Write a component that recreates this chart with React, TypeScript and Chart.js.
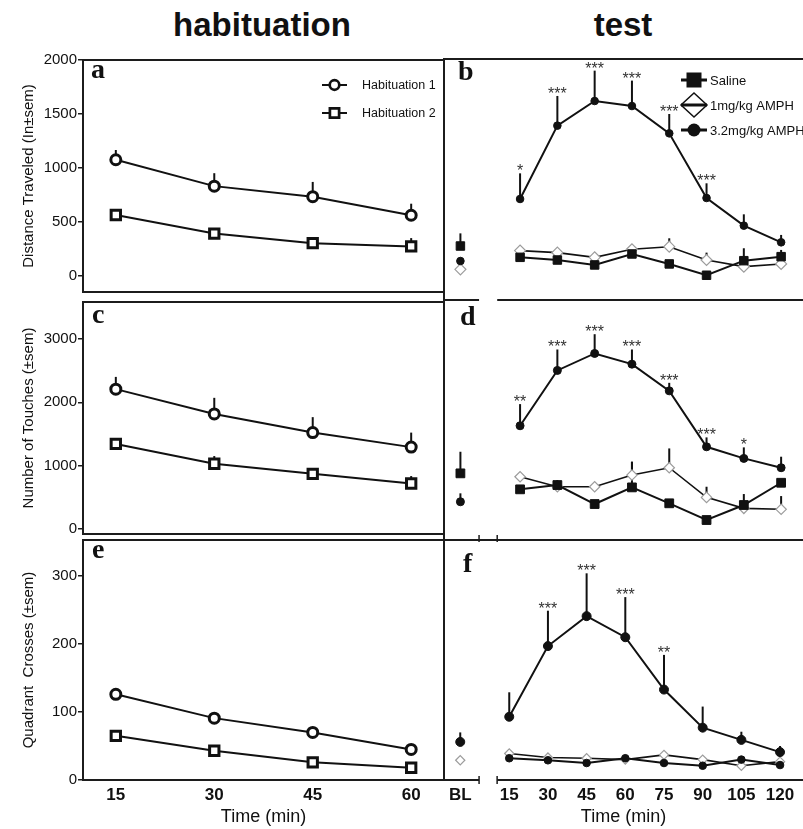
import React, { useEffect, useRef } from 'react';
import { Chart, registerables } from 'chart.js';

Chart.register(...registerables);

const SANS = "'Liberation Sans', Arial, Helvetica, sans-serif";
const SERIF = "'Liberation Serif', 'Times New Roman', serif";
const INK = '#111111';
const FRAME = '#1c1c1c';
const DIAMOND_GRAY = '#9c9c9c';

// ---------------- categories / ticks ----------------
const habTimes = [15, 30, 45, 60];
const habTickLabels = ['15', '30', '45', '60'];
const testTimes = [15, 30, 45, 60, 75, 90, 105, 120];
const testTickLabels = ['BL', '15', '30', '45', '60', '75', '90', '105', '120'];
const distTicks = [0, 500, 1000, 1500, 2000];
const touchTicks = [0, 1000, 2000, 3000];
const crossTicks = [0, 100, 200, 300];

// ---------------- Distance traveled ----------------
const distHab1 = [1075, 830, 732, 560];
const distHab1Sem = [90, 120, 137, 107];
const distHab2 = [562, 390, 301, 271];
const distHab2Sem = [30, 30, 20, 77];
// test series: first value = BL
const distSaline = [330, 229, 205, 161, 259, 170, 69, 199, 235];
const distSalineSem = [113, 0, 0, 0, 80, 0, 0, 111, 60];
const distLow = [122, 289, 271, 229, 301, 324, 205, 146, 170];
const distLowSem = [0, 0, 0, 0, 0, 75, 66, 0, 0];
const distHigh = [196, 750, 1405, 1625, 1580, 1336, 759, 512, 363];
const distHighSem = [30, 229, 265, 271, 227, 173, 131, 101, 66];
const distStars = ['', '*', '***', '***', '***', '***', '***', '', ''];

// ---------------- Number of touches ----------------
const touchHab1 = [2209, 1816, 1520, 1290];
const touchHab1Sem = [194, 255, 245, 230];
const touchHab2 = [1341, 1026, 867, 714];
const touchHab2Sem = [77, 122, 40, 117];
const touchSaline = [934, 689, 755, 464, 719, 475, 219, 449, 790];
const touchSalineSem = [331, 0, 76, 0, 393, 0, 0, 168, 0];
const touchLow = [null, 882, 729, 729, 908, 1020, 566, 398, 383];
const touchLowSem = [0, 0, 0, 0, 204, 296, 163, 0, 203];
const touchHigh = [499, 1663, 2511, 2771, 2607, 2198, 1341, 1163, 1020];
const touchHighSem = [129, 332, 321, 295, 225, 123, 144, 169, 169];
const touchStars = ['', '**', '***', '***', '***', '***', '***', '*', ''];

// ---------------- Quadrant crosses ----------------
const crossHab1 = [126, 91, 70, 45];
const crossHab1Sem = [8, 4, 4, 3];
const crossHab2 = [65, 43, 26, 18];
const crossHab2Sem = [4, 3, 3, 2];
const crossSaline = [null, 32, 29, 25, 32, 25, 21, 30, 22];
const crossSalineSem = [0, 0, 0, 0, 0, 0, 0, 0, 0];
const crossLow = [29, 39, 33, 32, 30, 37, 30, 21, 27];
const crossLowSem = [0, 0, 0, 0, 0, 0, 0, 0, 0];
const crossHigh = [56, 93, 197, 241, 210, 133, 77, 59, 41];
const crossHighSem = [14, 36, 52, 63, 59, 51, 31, 12, 9];
const crossStars = ['', '', '***', '***', '***', '**', '', '', ''];

// axis ranges
const distRange = { min: -152, max: 2000 };
const touchRange = { min: -87, max: 3590 };
const crossRange = { min: 0, max: 353 };
const habXRange = { min: 10, max: 65 };
const testXRangeBD = { min: -15.6, max: 128.8 };
const testXRangeF = { min: -10.3, max: 128.9 };
const BL_X_BD = -9;
const BL_X_F = -4;
const BREAK_BD = [-1.5, 5.8];
const BREAK_F = [3.3, 10.3];

// ---------------- plugins ----------------
const errorBarPlugin = {
  id: 'errorBars',
  beforeDatasetsDraw(chart: any) {
    const { ctx, scales } = chart;
    const x = scales.x, y = scales.y;
    ctx.save();
    ctx.strokeStyle = INK;
    ctx.lineWidth = 2;
    chart.data.datasets.forEach((d: any) => {
      if (!d.errs) return;
      d.data.forEach((p: any, i: number) => {
        const e = d.errs[i];
        if (p.y == null || !e) return;
        const px = x.getPixelForValue(p.x);
        ctx.beginPath();
        ctx.moveTo(px, y.getPixelForValue(p.y));
        ctx.lineTo(px, y.getPixelForValue(p.y + e));
        ctx.stroke();
      });
    });
    ctx.restore();
  },
  afterDatasetsDraw(chart: any) {
    const { ctx, scales } = chart;
    const x = scales.x, y = scales.y;
    ctx.save();
    ctx.font = `16px ${SANS}`;
    ctx.textAlign = 'center';
    ctx.textBaseline = 'alphabetic';
    ctx.fillStyle = '#333';
    chart.data.datasets.forEach((d: any) => {
      if (!d.stars) return;
      d.data.forEach((p: any, i: number) => {
        const s = d.stars[i];
        if (!s || p.y == null) return;
        const top = y.getPixelForValue(p.y + ((d.errs && d.errs[i]) || 0));
        ctx.fillText(s, x.getPixelForValue(p.x), top + 3);
      });
    });
    ctx.restore();
  },
};

function drawSymbol(ctx: CanvasRenderingContext2D, kind: string, cx: number, cy: number) {
  ctx.save();
  ctx.strokeStyle = INK;
  ctx.fillStyle = INK;
  if (kind === 'openCircle') {
    ctx.lineWidth = 2.7;
    ctx.fillStyle = '#fff';
    ctx.beginPath();
    ctx.arc(cx, cy, 4.8, 0, Math.PI * 2);
    ctx.fill();
    ctx.stroke();
  } else if (kind === 'openSquare') {
    ctx.lineWidth = 2.7;
    ctx.fillStyle = '#fff';
    ctx.beginPath();
    ctx.rect(cx - 4.6, cy - 4.6, 9.2, 9.2);
    ctx.fill();
    ctx.stroke();
  } else if (kind === 'filledSquare') {
    ctx.fillRect(cx - 7.5, cy - 7.5, 15, 15);
  } else if (kind === 'filledCircle') {
    ctx.beginPath();
    ctx.arc(cx, cy, 6.5, 0, Math.PI * 2);
    ctx.fill();
  } else if (kind === 'diamond') {
    ctx.lineWidth = 1.5;
    ctx.fillStyle = '#fff';
    ctx.beginPath();
    ctx.moveTo(cx, cy - 12);
    ctx.lineTo(cx + 13, cy);
    ctx.lineTo(cx, cy + 12);
    ctx.lineTo(cx - 13, cy);
    ctx.closePath();
    ctx.fill();
    ctx.stroke();
  }
  ctx.restore();
}

const decorPlugin = {
  id: 'decor',
  afterDraw(chart: any, _args: any, opts: any) {
    const { ctx, chartArea: ca, scales } = chart;
    const xs = scales.x;
    ctx.save();
    ctx.strokeStyle = FRAME;
    ctx.lineWidth = 2;
    const line = (x1: number, y1: number, x2: number, y2: number) => {
      ctx.beginPath();
      ctx.moveTo(x1, y1);
      ctx.lineTo(x2, y2);
      ctx.stroke();
    };
    const f = opts.frame || {};
    if (f.left) line(ca.left, ca.top - 1, ca.left, ca.bottom + 1);
    if (f.right) line(ca.right, ca.top - 1, ca.right, ca.bottom + 1);
    if (f.top) line(ca.left - 1, ca.top, ca.right, ca.top);
    if (f.bottom) {
      if (opts.bottomGap) {
        const g1 = xs.getPixelForValue(opts.bottomGap[0]);
        const g2 = xs.getPixelForValue(opts.bottomGap[1]);
        line(ca.left - 1, ca.bottom, g1, ca.bottom);
        line(g2, ca.bottom, ca.right, ca.bottom);
        if (opts.gapCaps) {
          ctx.lineWidth = 1.5;
          line(g1, ca.bottom - 4, g1, ca.bottom + 4);
          line(g2, ca.bottom - 4, g2, ca.bottom + 4);
        }
      } else {
        line(ca.left - 1, ca.bottom, ca.right, ca.bottom);
      }
    }
    if (opts.bottomCaps) {
      ctx.lineWidth = 1.5;
      opts.bottomCaps.forEach((v: number) => {
        const px = xs.getPixelForValue(v);
        line(px, ca.bottom - 5, px, ca.bottom + 2);
      });
    }
    // panel letter
    if (opts.letter) {
      ctx.fillStyle = INK;
      ctx.font = `bold 28px ${SERIF}`;
      ctx.textAlign = 'left';
      ctx.textBaseline = 'alphabetic';
      ctx.fillText(opts.letter, ca.left + opts.letterAt[0], ca.top + opts.letterAt[1]);
    }
    // legend
    const lg = opts.legend;
    if (lg) {
      lg.items.forEach((it: any, i: number) => {
        const cy = ca.top + lg.rows[i];
        const x1 = ca.left + lg.x1, x2 = ca.left + lg.x2;
        const cx = (x1 + x2) / 2;
        ctx.strokeStyle = INK;
        ctx.lineWidth = lg.lineWidth;
        if (it.kind === 'diamond') {
          drawSymbol(ctx, it.kind, cx, cy);
          ctx.strokeStyle = INK;
          ctx.lineWidth = lg.lineWidth;
          line(x1, cy, x2, cy);
        } else {
          line(x1, cy, x2, cy);
          drawSymbol(ctx, it.kind, cx, cy);
        }
        ctx.fillStyle = INK;
        ctx.font = `${lg.fontSize}px ${SANS}`;
        ctx.textAlign = 'left';
        ctx.textBaseline = 'middle';
        ctx.fillText(it.label, ca.left + lg.textX, cy + 1);
      });
    }
    ctx.restore();
  },
};

// ---------------- dataset helpers ----------------
const skipFirst = {
  borderColor: (c: any) => (c.p0DataIndex === 0 ? 'rgba(0,0,0,0)' : undefined),
};

function series(xs: number[], ys: (number | null)[], sem: number[], style: any, extra: any = {}) {
  return {
    data: xs.map((x, i) => ({ x, y: ys[i] })),
    errs: sem,
    tension: 0,
    fill: false,
    clip: false,
    ...style,
    ...extra,
  };
}

const hab1Style = {
  borderColor: INK, borderWidth: 2, pointStyle: 'circle', pointRadius: 5,
  pointBorderWidth: 3, pointBackgroundColor: '#fff', pointBorderColor: INK,
};
const hab2Style = {
  borderColor: INK, borderWidth: 2, pointStyle: 'rect', pointRadius: 6.6,
  pointBorderWidth: 3, pointBackgroundColor: '#fff', pointBorderColor: INK,
};
const highStyle = (r: number) => ({
  borderColor: INK, borderWidth: 2, pointStyle: 'circle', pointRadius: r,
  pointBorderWidth: 1, pointBackgroundColor: INK, pointBorderColor: INK, segment: skipFirst,
});
const salineStyle = (shape: string, r: number) => ({
  borderColor: INK, borderWidth: 2, pointStyle: shape, pointRadius: r,
  pointBorderWidth: 1, pointBackgroundColor: INK, pointBorderColor: INK, segment: skipFirst,
});
const lowStyle = (r: number) => ({
  borderColor: INK, borderWidth: 1.6, pointStyle: 'rectRot', pointRadius: r,
  pointBorderWidth: 1.2, pointBackgroundColor: '#fff', pointBorderColor: DIAMOND_GRAY, segment: skipFirst,
});

function habSets(h1: number[], h1s: number[], h2: number[], h2s: number[]) {
  return [series(habTimes, h1, h1s, hab1Style), series(habTimes, h2, h2s, hab2Style)];
}

function testSets(
  blX: number, sal: any[], salS: number[], low: any[], lowS: number[], high: any[], highS: number[],
  stars: string[], sal2: { shape: string; r: number }, highR: number, lowR: number
) {
  const xs = [blX, ...testTimes];
  return [
    series(xs, high, highS, highStyle(highR), { stars }),
    series(xs, sal, salS, salineStyle(sal2.shape, sal2.r)),
    series(xs, low, lowS, lowStyle(lowR)),
  ];
}

// ---------------- panel specs ----------------
type PanelSpec = {
  box: { x: number; y: number; w: number; h: number };
  padding: { left: number; right: number; top: number; bottom: number };
  datasets: any[];
  xRange: { min: number; max: number };
  yRange: { min: number; max: number };
  yTicks?: number[];
  yTitle?: string;
  xTicks?: number[];
  xTickLabels?: string[];
  decor: any;
};

const legendHab = {
  x1: 239, x2: 264, textX: 279, rows: [25, 53], fontSize: 12.5, lineWidth: 2,
  items: [
    { kind: 'openCircle', label: 'Habituation 1' },
    { kind: 'openSquare', label: 'Habituation 2' },
  ],
};
const legendTest = {
  x1: 237, x2: 263, textX: 266, rows: [21, 46, 71], fontSize: 13, lineWidth: 3,
  items: [
    { kind: 'filledSquare', label: 'Saline' },
    { kind: 'diamond', label: '1mg/kg AMPH' },
    { kind: 'filledCircle', label: '3.2mg/kg AMPH' },
  ],
};

const panels: PanelSpec[] = [
  {
    box: { x: 0, y: 50, w: 446, h: 252 },
    padding: { left: 0, right: 2, top: 9, bottom: 2 },
    datasets: habSets(distHab1, distHab1Sem, distHab2, distHab2Sem),
    xRange: habXRange, yRange: distRange, yTicks: distTicks,
    yTitle: 'Distance Traveled (In\u00B1sem)',
    decor: { frame: { top: true, right: true, bottom: true, left: true }, letter: 'a', letterAt: [8, 18], legend: legendHab },
  },
  {
    box: { x: 440, y: 50, w: 363, h: 252 },
    padding: { left: 4, right: 0, top: 9, bottom: 2 },
    datasets: testSets(BL_X_BD, distSaline, distSalineSem, distLow, distLowSem, distHigh, distHighSem, distStars,
      { shape: 'rect', r: 6 }, 3.8, 5.5),
    xRange: testXRangeBD, yRange: distRange,
    decor: { frame: { top: true, bottom: true, left: true }, bottomGap: BREAK_BD, letter: 'b', letterAt: [14, 21], legend: legendTest },
  },
  {
    box: { x: 0, y: 292, w: 446, h: 252 },
    padding: { left: 0, right: 2, top: 8, bottom: 4 },
    datasets: habSets(touchHab1, touchHab1Sem, touchHab2, touchHab2Sem),
    xRange: habXRange, yRange: touchRange, yTicks: touchTicks,
    yTitle: 'Number of Touches (\u00B1sem)',
    decor: { frame: { top: true, right: true, bottom: true, left: true }, letter: 'c', letterAt: [9, 21] },
  },
  {
    box: { x: 440, y: 292, w: 363, h: 252 },
    padding: { left: 4, right: 0, top: 8, bottom: 4 },
    datasets: testSets(BL_X_BD, touchSaline, touchSalineSem, touchLow, touchLowSem, touchHigh, touchHighSem, touchStars,
      { shape: 'rect', r: 6.2 }, 4, 5.2),
    xRange: testXRangeBD, yRange: touchRange,
    decor: { frame: { bottom: true, left: true }, bottomCaps: BREAK_BD, letter: 'd', letterAt: [16, 25] },
  },
  {
    box: { x: 0, y: 530, w: 446, h: 299 },
    padding: { left: 0, right: 2, top: 10, bottom: 0 },
    datasets: habSets(crossHab1, crossHab1Sem, crossHab2, crossHab2Sem),
    xRange: habXRange, yRange: crossRange, yTicks: crossTicks,
    yTitle: 'Quadrant  Crosses (\u00B1sem)',
    xTicks: habTimes, xTickLabels: habTickLabels,
    decor: { frame: { top: true, right: true, bottom: true, left: true }, letter: 'e', letterAt: [9, 18] },
  },
  {
    box: { x: 440, y: 530, w: 363, h: 299 },
    padding: { left: 4, right: 0, top: 10, bottom: 0 },
    datasets: testSets(BL_X_F, crossSaline, crossSalineSem, crossLow, crossLowSem, crossHigh, crossHighSem, crossStars,
      { shape: 'circle', r: 3.8 }, 4.5, 4.6),
    xRange: testXRangeF, yRange: crossRange,
    xTicks: [BL_X_F, ...testTimes], xTickLabels: testTickLabels,
    decor: { frame: { top: true, bottom: true, left: true }, bottomGap: BREAK_F, gapCaps: true, letter: 'f', letterAt: [19, 32] },
  },
];

function buildConfig(p: PanelSpec): any {
  const yScale: any = p.yTicks
    ? {
        type: 'linear', min: p.yRange.min, max: p.yRange.max,
        afterBuildTicks: (s: any) => { s.ticks = p.yTicks!.map((v) => ({ value: v })); },
        afterFit: (s: any) => { s.width = 83; },
        ticks: { font: { family: SANS, size: 15 }, color: INK, padding: 1, callback: (v: any) => String(v) },
        grid: { display: true, drawOnChartArea: false, drawTicks: true, tickLength: 5, color: FRAME, lineWidth: 1.5 },
        border: { display: false },
        title: { display: true, text: p.yTitle, font: { family: SANS, size: 15 }, color: INK, padding: { top: 20, bottom: 0 } },
      }
    : { type: 'linear', display: false, min: p.yRange.min, max: p.yRange.max };
  const xScale: any = p.xTicks
    ? {
        type: 'linear', min: p.xRange.min, max: p.xRange.max,
        afterBuildTicks: (s: any) => { s.ticks = p.xTicks!.map((v) => ({ value: v })); },
        afterFit: (s: any) => { s.height = 49; },
        ticks: {
          font: { family: SANS, size: 17, weight: 'bold' }, color: INK, padding: 5, maxRotation: 0, autoSkip: false,
          callback: (_v: any, i: number) => p.xTickLabels![i],
        },
        grid: { display: false, drawTicks: false },
        border: { display: false },
        title: { display: true, text: 'Time (min)', font: { family: SANS, size: 18 }, color: INK, padding: { top: 0, bottom: 1 } },
      }
    : { type: 'linear', display: false, min: p.xRange.min, max: p.xRange.max };

  return {
    type: 'line',
    data: { datasets: p.datasets },
    options: {
      animation: false,
      responsive: false,
      maintainAspectRatio: false,
      devicePixelRatio: 1,
      events: [],
      layout: { padding: p.padding, autoPadding: false },
      plugins: { legend: { display: false }, tooltip: { enabled: false }, decor: p.decor },
      scales: { x: xScale, y: yScale },
    },
    plugins: [errorBarPlugin, decorPlugin],
  };
}

function Panel({ spec }: { spec: PanelSpec }) {
  const ref = useRef<HTMLCanvasElement>(null);
  useEffect(() => {
    const chart = new Chart(ref.current as HTMLCanvasElement, buildConfig(spec));
    return () => chart.destroy();
  }, [spec]);
  return (
    <canvas
      ref={ref}
      width={spec.box.w}
      height={spec.box.h}
      style={{ position: 'absolute', left: spec.box.x, top: spec.box.y, width: spec.box.w, height: spec.box.h }}
    />
  );
}

export default function App() {
  const titleStyle: React.CSSProperties = {
    position: 'absolute', top: 8, width: 300, textAlign: 'center',
    font: `bold 33px ${SANS}`, lineHeight: '33px', color: INK,
  };
  return (
    <div style={{ position: 'absolute', left: 0, top: 0, width: 803, height: 829, background: '#fff', overflow: 'hidden' }}>
      <div style={{ ...titleStyle, left: 262 - 150 }}>habituation</div>
      <div style={{ ...titleStyle, left: 623 - 150 }}>test</div>
      {panels.map((p, i) => (
        <Panel key={i} spec={p} />
      ))}
    </div>
  );
}
